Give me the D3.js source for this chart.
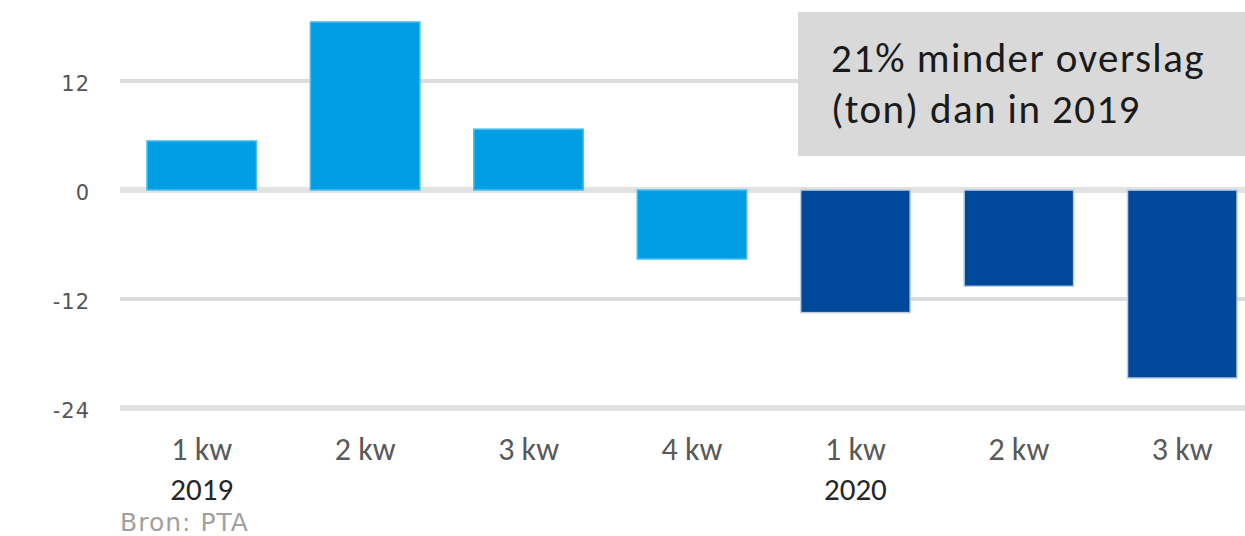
<!DOCTYPE html>
<html>
<head>
<meta charset="utf-8">
<script src="https://cdn.jsdelivr.net/npm/d3@7"></script>
<style>
  html, body { margin: 0; padding: 0; background: #ffffff; }
  svg { display: block; }
  text { font-family: Carlito, Lato, "Open Sans", sans-serif; }
</style>
</head>
<body>
<svg id="chart" width="1245" height="536"></svg>
<script>
// ---- data ----
const categories = ["1 kw 2019", "2 kw 2019", "3 kw 2019", "4 kw 2019", "1 kw 2020", "2 kw 2020", "3 kw 2020"];
const quarterLabels = ["1 kw", "2 kw", "3 kw", "4 kw", "1 kw", "2 kw", "3 kw"];
const yearLabels = ["2019", "", "", "", "2020", "", ""];
const years = ["2019", "2019", "2019", "2019", "2020", "2020", "2020"];
const values = [5.4, 18.5, 6.7, -7.6, -13.5, -10.6, -20.7];
const yTicks = [12, 0, -12, -24];
const yTickLabels = ["12", "0", "-12", "-24"];
const boxLines = ["21% minder overslag", "(ton) dan in 2019"];
const sourceText = "Bron: PTA";

// ---- chart ----
const svg = d3.select("#chart");
const W = 1245;

const x = d3.scaleBand()
  .domain(categories)
  .range([120, 1264])
  .paddingInner(0.33)
  .paddingOuter(0.165);

const y = d3.scaleLinear().domain([-24, 12]).range([408, 81]);

const color = d3.scaleOrdinal().domain(["2019", "2020"]).range(["#009fe3", "#00489a"]);
const edge = d3.scaleOrdinal().domain(["2019", "2020"]).range(["#4dbdec", "#bfcfe3"]);

// gridlines
svg.append("g").selectAll("line")
  .data(yTicks)
  .join("line")
  .attr("x1", 120).attr("x2", W)
  .attr("y1", d => y(d)).attr("y2", d => y(d))
  .attr("stroke", d => (d === 0 || d === -24) ? "#e2e2e2" : "#dcdcdc")
  .attr("stroke-width", d => (d === 0 || d === -24) ? 6 : 4);

// y axis labels
const yAxis = d3.axisLeft(y).tickValues(yTicks)
  .tickFormat((d, i) => yTickLabels[i]).tickSize(0).tickPadding(0);
const gy = svg.append("g").attr("transform", "translate(90,3)").call(yAxis);
gy.select(".domain").remove();
gy.selectAll("text")
  .attr("fill", "#555555")
  .style("font-size", "21px")
  .style("letter-spacing", "1px")
  .style("font-family", "'DejaVu Sans', sans-serif");

// bars
svg.append("g").selectAll("rect")
  .data(values)
  .join("rect")
  .attr("x", (d, i) => x(categories[i]))
  .attr("width", x.bandwidth())
  .attr("y", d => y(Math.max(0, d)))
  .attr("height", d => Math.abs(y(d) - y(0)))
  .attr("fill", (d, i) => color(years[i]))
  .attr("stroke", (d, i) => edge(years[i]))
  .attr("stroke-width", 1.5);

// x labels
const gx = svg.append("g");
gx.selectAll("text.q")
  .data(quarterLabels)
  .join("text")
  .attr("class", "q")
  .attr("x", (d, i) => x(categories[i]) + x.bandwidth() / 2)
  .attr("y", 460)
  .attr("text-anchor", "middle")
  .attr("fill", "#595959")
  .style("font-size", "32px")
  .text(d => d);
gx.selectAll("text.yr")
  .data(yearLabels)
  .join("text")
  .attr("class", "yr")
  .attr("x", (d, i) => x(categories[i]) + x.bandwidth() / 2)
  .attr("y", 500)
  .attr("text-anchor", "middle")
  .attr("fill", "#262626")
  .style("font-size", "31px")
  .text(d => d);

// source
svg.append("text")
  .attr("x", 120).attr("y", 531)
  .attr("fill", "#a0a0a0")
  .style("font-size", "25px")
  .style("letter-spacing", "1px")
  .style("font-family", "'DejaVu Sans', sans-serif")
  .text(sourceText);

// annotation box
svg.append("rect")
  .attr("x", 798).attr("y", 12)
  .attr("width", W - 798).attr("height", 144)
  .attr("fill", "#d9d9d9");
svg.append("g").selectAll("text")
  .data(boxLines)
  .join("text")
  .attr("x", 831)
  .attr("y", (d, i) => 72 + i * 51)
  .attr("fill", "#1a1a1a")
  .style("font-size", "41px")
  .style("letter-spacing", "1.4px")
  .text(d => d);
</script>
</body>
</html>
